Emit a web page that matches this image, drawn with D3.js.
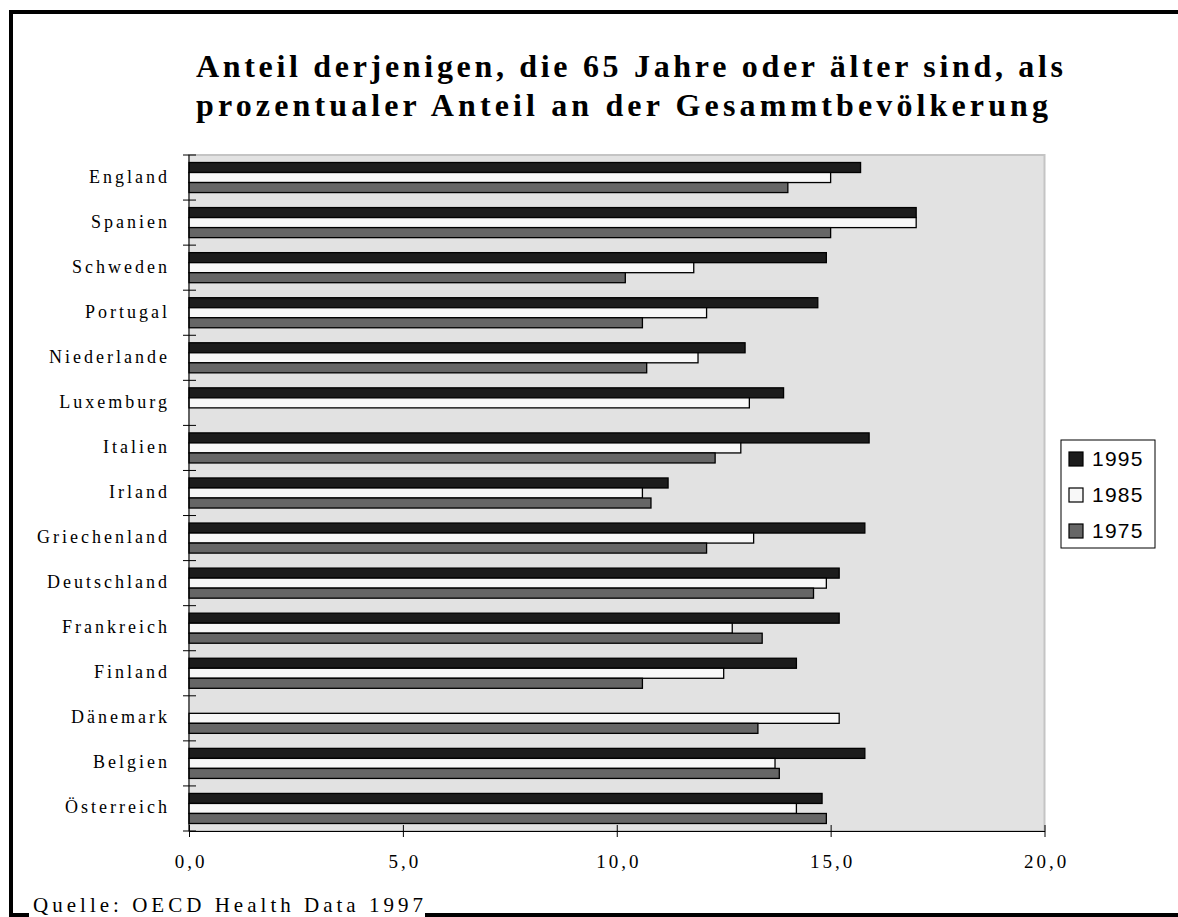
<!DOCTYPE html>
<html lang="de">
<head>
<meta charset="UTF-8">
<script src="https://d3js.org/d3.v7.min.js"></script>
<style>
  body { margin: 0; background: #fff; }
  svg { display: block; }
</style>
</head>
<body>
<script>
// data
const countries = ["England", "Spanien", "Schweden", "Portugal", "Niederlande", "Luxemburg", "Italien",
  "Irland", "Griechenland", "Deutschland", "Frankreich", "Finland", "Dänemark", "Belgien", "Österreich"];
const years = ["1995", "1985", "1975"];
const v1995 = [15.7, 17.0, 14.9, 14.7, 13.0, 13.9, 15.9, 11.2, 15.8, 15.2, 15.2, 14.2, null, 15.8, 14.8];
const v1985 = [15.0, 17.0, 11.8, 12.1, 11.9, 13.1, 12.9, 10.6, 13.2, 14.9, 12.7, 12.5, 15.2, 13.7, 14.2];
const v1975 = [14.0, 15.0, 10.2, 10.6, 10.7, null, 12.3, 10.8, 12.1, 14.6, 13.4, 10.6, 13.3, 13.8, 14.9];
const xTicks = [0, 5, 10, 15, 20];
const titleLines = ["Anteil derjenigen, die 65 Jahre oder älter sind, als",
  "prozentualer Anteil an der Gesammtbevölkerung"];
const sourceText = "Quelle: OECD Health Data 1997";

const series = { "1995": v1995, "1985": v1985, "1975": v1975 };
const colors = { "1995": "#1c1c1c", "1985": "#f8f8f8", "1975": "#666666" };

const W = 1178, H = 917;
const plot = { left: 189, right: 1044.5, top: 155, bottom: 831 };

const svg = d3.select("body").append("svg")
  .attr("width", W).attr("height", H);

const serif = "'Liberation Serif', 'Times New Roman', serif";
const sans = "'Liberation Sans', Arial, sans-serif";

// outer frame (broken by the source note at the bottom)
svg.append("path")
  .attr("d", "M1190,12 H11 V915 H29 M425,915 H1190")
  .attr("fill", "none").attr("stroke", "#000").attr("stroke-width", 4);

// title
svg.selectAll(".title").data(titleLines).enter().append("text")
  .attr("class", "title")
  .attr("x", 196)
  .attr("y", (d, i) => 77 + i * 39)
  .attr("textLength", (d, i) => i === 0 ? 867 : 852)
  .attr("lengthAdjust", "spacing")
  .style("font-family", serif).style("font-weight", "bold").style("font-size", "32px")
  .text(d => d);

// scales
const x = d3.scaleLinear().domain([0, 20]).range([plot.left, plot.right]);
const y = d3.scaleBand().domain(countries).range([plot.top, plot.bottom])
  .paddingInner(0.333).paddingOuter(0.1665);
const ySub = d3.scaleBand().domain(years).range([0, y.bandwidth()]);

// plot area
svg.append("rect")
  .attr("x", plot.left).attr("y", plot.top)
  .attr("width", plot.right - plot.left).attr("height", plot.bottom - plot.top)
  .attr("fill", "#e2e2e2").attr("stroke", "#c4c4c4").attr("stroke-width", 2);

// bars
const rows = [];
countries.forEach((c, i) => {
  years.forEach(yr => {
    if (series[yr][i] != null) rows.push({ country: c, year: yr, value: series[yr][i] });
  });
});

svg.append("g").selectAll("rect").data(rows).enter().append("rect")
  .attr("x", x(0))
  .attr("y", d => y(d.country) + ySub(d.year))
  .attr("width", d => x(d.value) - x(0))
  .attr("height", ySub.bandwidth())
  .attr("fill", d => colors[d.year])
  .attr("stroke", "#000").attr("stroke-width", 1.3);

// x axis
const xAxis = svg.append("g")
  .attr("transform", `translate(0,${plot.bottom})`)
  .call(d3.axisBottom(x).tickValues(xTicks).tickSize(6).tickSizeOuter(0)
    .tickFormat(d => d3.format(".1f")(d).replace(".", ",")));
xAxis.select(".domain").attr("stroke", "#000");
xAxis.selectAll(".tick line").attr("y1", -6).attr("stroke", "#000");
xAxis.selectAll(".tick text")
  .attr("y", 24).attr("dx", 1.5)
  .style("font-family", serif).style("font-size", "19px").style("letter-spacing", "3px")
  .attr("fill", "#000");

// y axis: line, ticks between categories, labels
const yAxis = svg.append("g");
yAxis.append("line")
  .attr("x1", x(0)).attr("x2", x(0))
  .attr("y1", plot.top).attr("y2", plot.bottom)
  .attr("stroke", "#000");
yAxis.selectAll(".ytick").data(d3.range(countries.length + 1)).enter().append("line")
  .attr("class", "ytick")
  .attr("x1", x(0) - 6).attr("x2", x(0) + 7)
  .attr("y1", i => plot.top + i * y.step())
  .attr("y2", i => plot.top + i * y.step())
  .attr("stroke", "#000");
yAxis.selectAll(".ylabel").data(countries).enter().append("text")
  .attr("class", "ylabel")
  .attr("x", 170)
  .attr("y", d => y(d) + y.bandwidth() / 2 + 5)
  .attr("text-anchor", "end")
  .style("font-family", serif).style("font-size", "18px").style("letter-spacing", "3px")
  .text(d => d);

// legend
const legend = svg.append("g").attr("transform", "translate(1061,440)");
legend.append("rect")
  .attr("width", 94).attr("height", 108)
  .attr("fill", "#fff").attr("stroke", "#000").attr("stroke-width", 1);
const li = legend.selectAll(".li").data(years).enter().append("g")
  .attr("class", "li")
  .attr("transform", (d, i) => `translate(8,${12 + i * 36})`);
li.append("rect")
  .attr("width", 14).attr("height", 14)
  .attr("fill", d => colors[d]).attr("stroke", "#000").attr("stroke-width", 1.2);
li.append("text")
  .attr("x", 23).attr("y", 14)
  .style("font-family", sans).style("font-size", "21px").style("letter-spacing", "1.2px")
  .text(d => d);

// source note
svg.append("text")
  .attr("x", 33).attr("y", 912)
  .attr("textLength", 390).attr("lengthAdjust", "spacing")
  .style("font-family", serif).style("font-size", "21px")
  .text(sourceText);
</script>
</body>
</html>
